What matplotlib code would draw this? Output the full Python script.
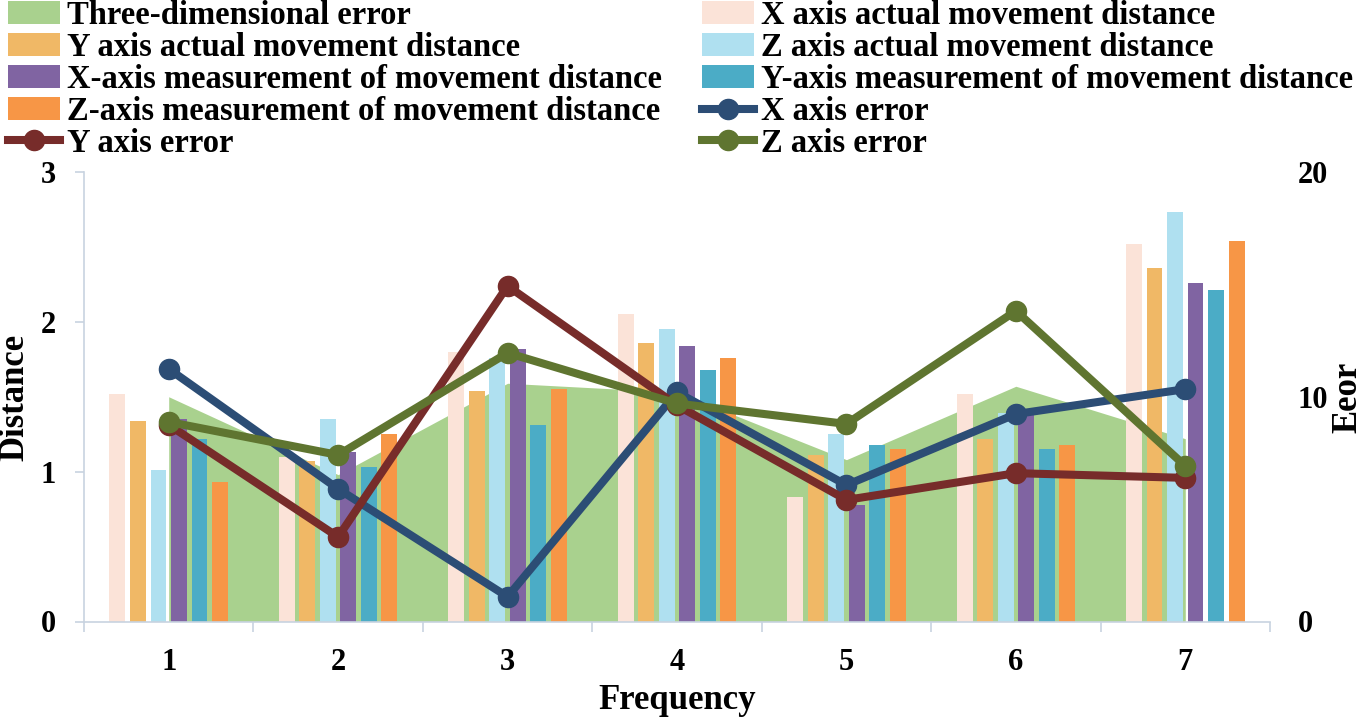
import matplotlib
matplotlib.use("Agg")
import matplotlib.pyplot as plt
import numpy as np
from matplotlib.patches import Patch
from matplotlib.lines import Line2D

plt.rcParams['font.family'] = ['Liberation Serif', 'DejaVu Serif']
plt.rcParams['font.weight'] = 'bold'

categories = [1, 2, 3, 4, 5, 6, 7]
three_d_error = [1.50, 0.98, 1.59, 1.53, 1.08, 1.57, 1.22]
x_actual = [1.52, 1.10, 1.80, 2.05, 0.83, 1.52, 2.52]
y_actual = [1.34, 1.07, 1.54, 1.86, 1.11, 1.22, 2.36]
z_actual = [1.01, 1.35, 1.76, 1.95, 1.25, 1.39, 2.73]
x_meas = [1.35, 1.13, 1.82, 1.84, 0.78, 1.40, 2.26]
y_meas = [1.22, 1.03, 1.31, 1.68, 1.18, 1.15, 2.21]
z_meas = [0.93, 1.25, 1.55, 1.76, 1.15, 1.18, 2.54]
x_err = [11.24, 5.90, 1.10, 10.20, 6.07, 9.23, 10.34]
y_err = [8.75, 3.76, 14.93, 9.62, 5.41, 6.60, 6.39]
z_err = [8.88, 7.41, 11.95, 9.70, 8.79, 13.82, 6.92]

bar_series = [
    ("X axis actual movement distance", x_actual, "#fbe3d8"),
    ("Y axis actual movement distance", y_actual, "#f0b866"),
    ("Z axis actual movement distance", z_actual, "#afe0f0"),
    ("X-axis measurement of movement distance", x_meas, "#8064a2"),
    ("Y-axis measurement of movement distance", y_meas, "#4bacc6"),
    ("Z-axis measurement of movement distance", z_meas, "#f79646"),
]
line_series = [
    ("X axis error", x_err, "#2c4d75"),
    ("Y axis error", y_err, "#772c2a"),
    ("Z axis error", z_err, "#5f7530"),
]
area_color = "#a9d18e"
spine_color = "#c8d3e0"

W, H = 1362, 719
fig = plt.figure(figsize=(W/100, H/100), dpi=100)
ax_l, ax_r, ax_b, ax_t = 84, 1270, 621.5, 172
ax = fig.add_axes([ax_l/W, 1-ax_b/H, (ax_r-ax_l)/W, (ax_b-ax_t)/H])
x = np.array(categories, dtype=float)

ax.fill_between(x, 0, three_d_error, color=area_color, linewidth=0, zorder=1)

step = 0.121
width = 0.094
for i, (name, vals, col) in enumerate(bar_series):
    ax.bar(x + (i - 2.5) * step, vals, width=width, color=col, linewidth=0, zorder=2)

ax.set_xlim(0.5, 7.5)
ax.set_ylim(0, 3)
ax.set_yticks([0, 1, 2, 3])
ax.set_xticks(categories)
ax.set_xticks(np.arange(0.5, 7.6, 1.0), minor=True)
ax.tick_params(axis='x', which='major', length=0, labelsize=22, pad=19)
ax.tick_params(axis='x', which='minor', length=7, color=spine_color, width=1.2)
ax.tick_params(axis='y', length=6.5, color=spine_color, width=1.2, labelsize=22, pad=14)
for s in ['top', 'right']:
    ax.spines[s].set_visible(False)
for s in ['left', 'bottom']:
    ax.spines[s].set_color(spine_color)
    ax.spines[s].set_linewidth(1.2)

def ax_x(px):
    return (px - ax_l) / (ax_r - ax_l)

def ax_y(py):
    return (ax_b - py) / (ax_b - ax_t)

ax.set_xlabel("Frequency", fontsize=25, fontweight='bold')
ax.xaxis.set_label_coords(ax_x(677), ax_y(684))
ax.set_ylabel("Distance", fontsize=25, fontweight='bold')
ax.yaxis.set_label_coords(ax_x(31), ax_y(397))

ax2 = ax.twinx()
for name, vals, col in line_series:
    ax2.plot(x, vals, color=col, linewidth=5.8, marker='o', markersize=14.5,
             solid_capstyle='round', zorder=3)
ax2.set_ylim(0, 20)
ax2.set_yticks([0, 10, 20])
ax2.tick_params(axis='y', length=0, labelsize=22, pad=20)
for s in ax2.spines.values():
    s.set_visible(False)
ax2.set_ylabel("Eeor", fontsize=25, fontweight='bold')
ax2.yaxis.set_label_coords(ax_x(1331), ax_y(397))

# legend handles
h_area = Patch(facecolor=area_color, edgecolor='none', label="Three-dimensional error")
h_bars = [Patch(facecolor=c, edgecolor='none', label=n) for n, v, c in bar_series]
h_lines = [Line2D([0], [0], color=c, linewidth=5.8, marker='o', markersize=14.5, label=n)
           for n, v, c in line_series]
ordered = [h_area] + h_bars + h_lines
col1 = ordered[0::2]
col2 = ordered[1::2]
common = dict(loc='upper left', frameon=False, borderaxespad=0,
              borderpad=0, handlelength=1.6, handletextpad=0.22, labelspacing=0.03,
              prop={'weight': 'bold', 'size': 23.5})
fig.legend(handles=col1, bbox_to_anchor=(8/W, 1.0), **common)
fig.legend(handles=col2, bbox_to_anchor=(702/W, 1.0), **common)

fig.savefig("out.png", dpi=100)
